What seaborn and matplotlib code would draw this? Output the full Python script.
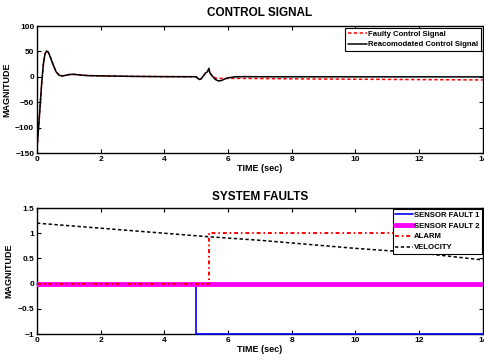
import matplotlib
matplotlib.use("Agg")
import matplotlib.pyplot as plt
from matplotlib import font_manager
import seaborn as sns

sns.set_style("ticks")
_names = {f.name for f in font_manager.fontManager.ttflist}
_family = "Liberation Sans Narrow" if "Liberation Sans Narrow" in _names else "Liberation Sans"
plt.rcParams["font.family"] = [_family, "DejaVu Sans"]
plt.rcParams["font.weight"] = "bold"
plt.rcParams["text.color"] = "black"
plt.rcParams["axes.labelcolor"] = "black"
plt.rcParams["xtick.color"] = "black"
plt.rcParams["ytick.color"] = "black"
plt.rcParams["axes.unicode_minus"] = True

# ---- control signal (time in s, magnitude) ----
t_ctrl = [0.0, 0.05, 0.1, 0.15, 0.2, 0.25, 0.3, 0.35, 0.4, 0.5, 0.6, 0.7, 0.8,
          0.9, 1.0, 1.1, 1.2, 1.4, 1.6, 2.0, 2.5, 3.0, 4.0, 5.0, 5.05, 5.1,
          5.15, 5.2, 5.3, 5.35, 5.4, 5.43, 5.5, 5.6, 5.7, 5.8, 5.9, 6.0, 6.2,
          6.5, 7.0, 8.0, 10.0, 12.0, 14.0]
reaccommodated = [-140, -100, -55, -10, 25, 45, 51, 49, 42, 25, 10, 3, 2,
                  3, 4.5, 5, 4.8, 3.5, 2.5, 2, 1.5, 1, 0.5, 0.3, -3, -5,
                  -4, 0, 8, 10, 17, 8, 2, -5, -8, -7, -4, -2, 0,
                  0.5, 0.3, 0.2, 0.1, 0.1, 0]
faulty = [-140, -100, -55, -10, 25, 45, 51, 49, 42, 25, 10, 3, 2,
          3, 4.5, 5, 4.8, 3.5, 2.5, 2, 1.5, 1, 0.5, 0.3, -3, -5,
          -4, 0, 8, 10, 14, 8, 2, -2, -3, -3, -3, -3, -3,
          -3, -3.3, -3.8, -4.6, -5.3, -6]

# ---- system faults ----
t_fault = [0.0, 5.0, 5.0, 14.0]
sensor_fault_1 = [0, 0, -1, -1]
t_fault2 = [0.0, 14.0]
sensor_fault_2 = [0, 0]
t_alarm = [0.0, 5.4, 5.4, 14.0]
alarm = [0, 0, 1, 1]
t_vel = [0.0, 2.0, 4.0, 5.4, 7.0, 10.0, 12.0, 14.0]
velocity = [1.2, 1.1, 1.0, 0.93, 0.86, 0.70, 0.61, 0.47]

x_ticks = [0, 2, 4, 6, 8, 10, 12, 14]

fig = plt.figure(figsize=(4.85, 3.62), dpi=100)
ax1 = fig.add_axes([0.0763, 0.577, 0.919, 0.351])
ax2 = fig.add_axes([0.0763, 0.0773, 0.919, 0.348])

tick_fs = 6.0
lab_fs = 6.5
title_fs = 8.5
leg_fs = 5.6


def style_axes(ax):
    ax.tick_params(direction="in", top=True, right=True, length=3, width=0.8,
                   labelsize=tick_fs, pad=2)
    for lab in ax.get_xticklabels() + ax.get_yticklabels():
        lab.set_fontweight("bold")
    for sp in ax.spines.values():
        sp.set_visible(True)
        sp.set_linewidth(1.0)
        sp.set_color("black")
    ax.set_xlim(0, 14)
    ax.set_xticks(x_ticks)
    ax.set_xlabel("TIME (sec)", fontsize=lab_fs, fontweight="bold", labelpad=1)
    ax.set_ylabel("MAGNITUDE", fontsize=lab_fs, fontweight="bold", labelpad=3)


def style_legend(leg):
    leg.get_frame().set_linewidth(0.8)
    leg.get_frame().set_edgecolor("black")


# top panel
sns.lineplot(x=t_ctrl, y=faulty, ax=ax1, color="red", linestyle=(0, (2.2, 1.6)),
             linewidth=1.1, estimator=None, sort=False,
             label="Faulty Control Signal")
sns.lineplot(x=t_ctrl, y=reaccommodated, ax=ax1, color="black",
             linewidth=1.1, estimator=None, sort=False,
             label="Reacomodated Control Signal")
ax1.set_ylim(-150, 100)
ax1.set_yticks([-150, -100, -50, 0, 50, 100])
style_axes(ax1)
ax1.set_title("CONTROL SIGNAL", fontsize=title_fs, fontweight="bold", pad=7)
leg1 = ax1.legend(loc="upper right", frameon=True, fancybox=False,
                  framealpha=1, handlelength=2.4, handletextpad=0.2,
                  borderpad=0.35, labelspacing=0.4, borderaxespad=0.2,
                  prop={"weight": "bold", "size": leg_fs})
style_legend(leg1)

# bottom panel
sns.lineplot(x=t_fault, y=sensor_fault_1, ax=ax2, color="blue",
             linewidth=1.2, estimator=None, sort=False, zorder=3,
             clip_on=False, label="SENSOR FAULT 1")
sns.lineplot(x=t_fault2, y=sensor_fault_2, ax=ax2, color="magenta",
             linewidth=3.5, estimator=None, sort=False, zorder=3.1,
             label="SENSOR FAULT 2")
sns.lineplot(x=t_alarm, y=alarm, ax=ax2, color="red",
             linestyle=(0, (2.0, 1.5, 0.8, 1.5)),
             linewidth=1.4, estimator=None, sort=False, zorder=3.2,
             label="ALARM")
sns.lineplot(x=t_vel, y=velocity, ax=ax2, color="black",
             linestyle=(0, (2.2, 1.6)),
             linewidth=1.1, estimator=None, sort=False, zorder=3.3,
             label="VELOCITY")
ax2.set_ylim(-1, 1.5)
ax2.set_yticks([-1, -0.5, 0, 0.5, 1, 1.5])
ax2.set_yticklabels(["\u22121", "\u22120.5", "0", "0.5", "1", "1.5"])
style_axes(ax2)
ax2.set_title("SYSTEM FAULTS", fontsize=title_fs, fontweight="bold", pad=6)
leg2 = ax2.legend(loc="upper right", frameon=True, fancybox=False,
                  framealpha=1, handlelength=2.2, handletextpad=0.2,
                  borderpad=0.3, labelspacing=0.45, borderaxespad=0.1,
                  prop={"weight": "bold", "size": leg_fs})
leg2.set_zorder(5)
style_legend(leg2)

fig.savefig("out.png", dpi=100)
